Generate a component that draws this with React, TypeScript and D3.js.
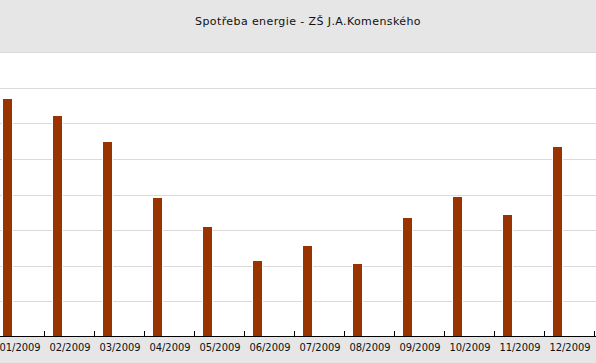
import React from 'react';
import * as d3 from 'd3';

// Monthly consumption (same units as the hidden y-axis)
const months = ['01/2009', '02/2009', '03/2009', '04/2009', '05/2009', '06/2009',
  '07/2009', '08/2009', '09/2009', '10/2009', '11/2009', '12/2009'];
const consumption = [66.9, 62.1, 54.8, 39.0, 30.9, 21.3, 25.6, 20.5, 33.4, 39.3, 34.3, 53.4];
const gridValues = [0, 10, 20, 30, 40, 50, 60, 70, 80];

const title = 'Spotřeba energie - ZŠ J.A.Komenského';

const width = 596;
const height = 363;
const plotTop = 52.3;
const plotBottom = 337;

const App: React.FC = () => {
  const x = d3.scaleBand<string>()
    .domain(months)
    .range([-6, 594])
    .paddingInner(0)
    .paddingOuter(0);

  const y = d3.scaleLinear()
    .domain([0, 80])
    .range([plotBottom, plotTop]);

  const barOffset = 9;
  const barWidth = 9;
  const labelFont = '"DejaVu Sans Condensed", "DejaVu Sans", sans-serif';
  const titleFont = '"DejaVu Sans", sans-serif';

  return (
    <svg
      width={width}
      height={height}
      style={{ position: 'absolute', left: 0, top: 0, display: 'block' }}
    >
      {/* title band */}
      <rect x={0} y={0} width={width} height={plotTop} fill="#e6e6e6" />
      <text
        x={308}
        y={25}
        textAnchor="middle"
        fontFamily={titleFont}
        fontSize={11}
        letterSpacing={0.4}
        fill="#111"
      >
        {title}
      </text>

      {/* plot background */}
      <rect x={0} y={plotTop} width={width} height={plotBottom - plotTop} fill="#fff" />

      {/* grid lines */}
      {gridValues.slice(1).map(v => (
        <line
          key={v}
          x1={0}
          x2={width}
          y1={Math.round(y(v)) + 0.5}
          y2={Math.round(y(v)) + 0.5}
          stroke="#dadada"
          strokeWidth={1}
        />
      ))}

      {/* bars with a thin white halo that cuts the grid */}
      {months.map((m, i) => {
        const bx = (x(m) || 0) + barOffset;
        const by = Math.round(y(consumption[i]));
        return (
          <g key={m}>
            <rect x={bx - 1} y={by - 1} width={barWidth + 2} height={plotBottom - by + 1} fill="#fff" />
            <rect x={bx} y={by} width={barWidth} height={plotBottom - by} fill="#993300" />
          </g>
        );
      })}

      {/* bottom band */}
      <rect x={0} y={plotBottom} width={width} height={height - plotBottom} fill="#e6e6e6" />

      {/* x axis */}
      <line x1={0} x2={width} y1={plotBottom - 0.5} y2={plotBottom - 0.5} stroke="#000" strokeWidth={1} />
      {months.map(m => {
        const tx = (x(m) || 0) + x.bandwidth();
        return (
          <line
            key={'t' + m}
            x1={tx + 0.5}
            x2={tx + 0.5}
            y1={plotBottom - 6}
            y2={plotBottom}
            stroke="#000"
            strokeWidth={1}
          />
        );
      })}
      {months.map(m => (
        <text
          key={'l' + m}
          x={(x(m) || 0) + x.bandwidth() / 2 + 1}
          y={351}
          textAnchor="middle"
          fontFamily={labelFont}
          fontSize={11}
          fill="#111"
        >
          {m}
        </text>
      ))}
    </svg>
  );
};

export default App;
